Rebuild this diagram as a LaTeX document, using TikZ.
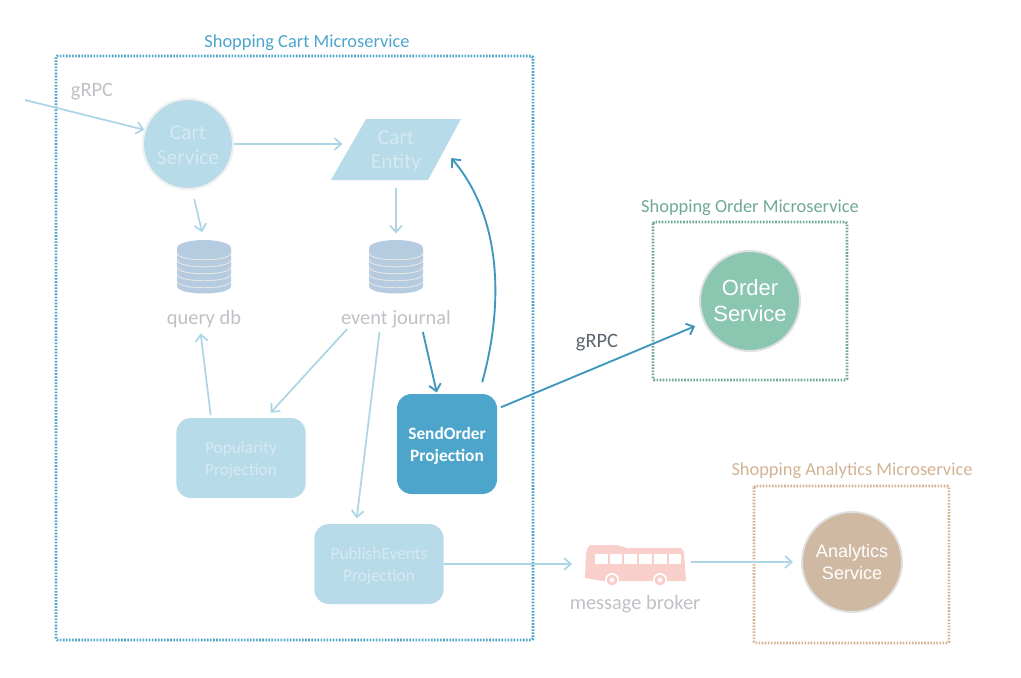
\documentclass[tikz,border=0pt]{standalone}
\usepackage{fontspec}
\setmainfont{Carlito}
\newfontfamily\helvfont{Liberation Sans}
\usepackage{xcolor}
\definecolor{azulFrame}{HTML}{4DA5CB}
\definecolor{azulPale}{HTML}{B8DBEA}
\definecolor{azulLine}{HTML}{ADD5E6}
\definecolor{azulDark}{HTML}{3F97BD}
\definecolor{verdeOrder}{HTML}{8AC6B0}
\definecolor{verdeFrame}{HTML}{6FA896}
\definecolor{tanFill}{HTML}{D0B9A2}
\definecolor{tanFrame}{HTML}{D2B394}
\definecolor{grisText}{HTML}{BEC1C5}
\definecolor{grisDark}{HTML}{5B6670}
\definecolor{paleText}{HTML}{D6E9F2}
\definecolor{dbFill}{HTML}{B5CBDF}
\definecolor{dbLine}{HTML}{E6E7E4}
\definecolor{busFill}{HTML}{F9CFCB}
\usetikzlibrary{arrows.meta,positioning}
\begin{document}
\begin{tikzpicture}[x=0.75pt,y=-0.75pt,
 frame/.style={draw=#1,line width=2.2pt,dash pattern=on 1.2pt off 1.1pt,rounded corners=1pt},
 title/.style={font=\fontsize{13.8}{15}\selectfont,inner sep=0pt},
 svc/.style={circle,draw=#1,line width=1.5pt,inner sep=0pt,align=center},
 lbl/.style={text=grisText,font=\fontsize{15.3}{16}\selectfont,inner sep=0pt},
 proj/.style={fill=azulPale,rounded corners=11pt,minimum width=97pt,minimum height=60pt,inner sep=0pt,
 align=center,text=paleText,font=\fontsize{13}{16.5}\selectfont,text height=29pt},
 ghost/.style={inner sep=0pt,minimum width=#1},
 arr/.style={-{Straight Barb[length=5pt,width=9pt]},azulLine,line width=1.3pt},
 darr/.style={arr,azulDark,line width=1.4pt},
 dbstack/.pic={
 \fill[dbFill] (-27,-19) -- (-27,19) .. controls (-27,29) and (27,29) .. (27,19) -- (27,-19) -- cycle;
 \fill[dbFill] (0,-19) ellipse [x radius=27,y radius=8];
 \foreach \dy in {-14,-7,0,7,14}
 \draw[dbLine,line width=0.7pt] (-27,\dy) .. controls (-27,\dy+9) and (27,\dy+9) .. (27,\dy);
 }]
 \useasboundingbox (0,0) rectangle (1021,678);
 % frames
 \draw[frame=azulFrame] (56,56) rectangle (533,640);
 \draw[frame=verdeFrame] (653,222) rectangle (847,380);
 \draw[frame=tanFrame] (754,486) rectangle (949,643);
 \node[title,text=azulFrame] (carttitle) at (307,43) {Shopping Cart Microservice};
 \node[title,text=verdeFrame] (ordertitle) at (750,208) {Shopping Order Microservice};
 \node[title,text=tanFrame] (analyticstitle) at (852,471) {Shopping Analytics Microservice};
 % cart side
 \node[svc=black!6,fill=azulPale,minimum size=67.5pt,text=paleText,text height=31pt,
 font=\fontsize{16}{18.5}\selectfont] (cartservice) at (188,144) {Cart\\Service};
 \fill[azulPale] (331,180) -- (366,119) -- (461,119) -- (428,180) -- cycle;
 \node[ghost=72pt,minimum height=45pt,align=center,text=paleText,text height=31pt,
 font=\fontsize{16}{18.5}\selectfont] (cartentity) at (396,150) {Cart\\Entity};
 \node[ghost=40pt,minimum height=40pt] (querydb) at (204,267) {};
 \node[ghost=40pt,minimum height=40pt] (journal) at (396,267) {};
 \pic at (querydb) {dbstack};
 \pic at (journal) {dbstack};
 \node[lbl] (querylabel) at (204,319) {query db};
 \node[lbl] (journallabel) at (396,319) {event journal};
 \node[lbl] (grpcin) at (92,92) {gRPC};
 \coordinate (grpcstart) at (25,100);
 \node[proj] (popularity) at (241,458) {Popularity\\Projection};
 \node[proj,minimum width=75pt,minimum height=75pt,fill=azulFrame,text=white,font=\bfseries\fontsize{13}{16.5}\selectfont]
 (sendorder) at (447,444) {SendOrder\\Projection};
 \node[proj] (publish) at (379,564) {PublishEvents\\Projection};
 % broker
 \node[ghost=76pt,minimum height=29pt] (bus) at (635,564) {};
 \fill[busFill] (590,545) -- (617,545) -- (627,548) -- (681,548) to[bend left=10] (684,552)
 -- (686,581) -- (603,581) -- (585,578) -- (586,553) to[bend left=20] (590,545) -- cycle;
 \foreach \i in {0,...,5}
 \fill[white] (595+14.7*\i,554) rectangle ++(12.7,10);
 \foreach \wx in {612,660} {
 \fill[white] (\wx,580) circle [radius=7];
 \fill[busFill] (\wx,580) circle [radius=5.5];
 \fill[white] (\wx,580) circle [radius=2.2];
 }
 \node[lbl] (brokerlabel) at (635,604) {message broker};
 % other services
 \node[svc=black!12,fill=verdeOrder,minimum size=75pt,text=white,
 font=\helvfont\fontsize{16.5}{19.5}\selectfont] (orderservice) at (750,301) {Order\\Service};
 \node[svc=black!12,fill=tanFill,minimum size=75pt,text=white,
 font=\helvfont\fontsize{13.5}{16.5}\selectfont] (analyticsservice) at (852,562) {Analytics\\Service};
 \node[lbl,text=grisDark] (grpcout) at (597,343) {gRPC};
 % connectors
 \draw[arr] (grpcstart) -- (cartservice.162);
 \draw[arr,shorten >=4pt] (cartservice.east) -- (cartservice.east-|cartentity.west);
 \draw[arr,shorten <=7pt,shorten >=6pt] (cartservice.-85) -- (querydb.north);
 \draw[arr,shorten <=6pt,shorten >=5pt] (cartentity.south) -- (journal.north);
 \draw[arr,shorten <=2pt,shorten >=4pt] (popularity.north-|211,0) -- (querylabel.south-|200,0);
 \draw[arr,shorten <=1pt,shorten >=5pt] (journallabel.south-|348,0) -- (popularity.north-|266,0);
 \draw[arr,shorten <=3pt,shorten >=4pt] (journallabel.south-|380,0) -- (publish.north-|356,0);
 \draw[darr,shorten <=3pt,shorten >=1pt] (journallabel.south-|422,0) -- (sendorder.north-|437,0);
 \draw[darr,shorten <=9pt] (sendorder.north-|479,0) .. controls (505,300) and (500,215) .. ([shift={(7,8)}]cartentity.east);
 \draw[darr,shorten <=3pt,shorten >=7pt] (sendorder.35) -- (orderservice.-155);
 \draw[arr,shorten >=9pt] (publish.east) -- (bus.west);
 \draw[arr,shorten <=4pt,shorten >=6pt] (bus.east|-analyticsservice.west) -- (analyticsservice.west);
\end{tikzpicture}
\end{document}
